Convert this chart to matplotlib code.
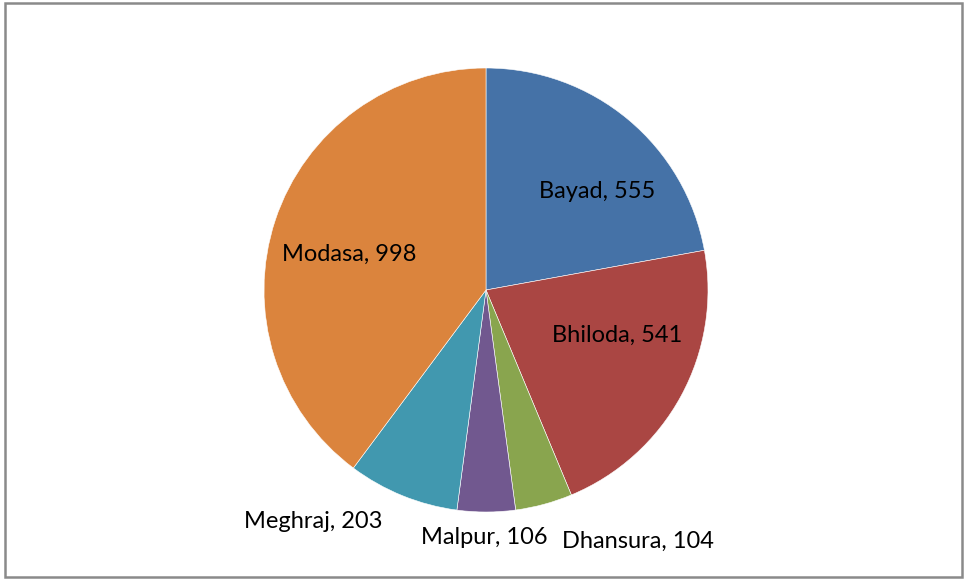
import matplotlib
matplotlib.use("Agg")
import matplotlib.pyplot as plt
from matplotlib.patches import Rectangle

# data
names = ["Bayad", "Bhiloda", "Dhansura", "Malpur", "Meghraj", "Modasa"]
values = [555, 541, 104, 106, 203, 998]
colors = ["#4572A7", "#AA4643", "#89A54E", "#71588F", "#4198AF", "#DB843D"]

# label centres in pixel coords (x, y from top)
label_pos = [(597, 192), (617, 335), (638, 541), (484, 537), (313, 521), (349, 254)]

W, H = 964, 579
fig = plt.figure(figsize=(W / 100, H / 100), dpi=100)
ax = fig.add_axes([0, 0, 1, 1])

ax.pie(values, colors=colors, startangle=90, counterclock=False,
       center=(486, H - 290), radius=222, frame=True,
       wedgeprops=dict(edgecolor="white", linewidth=0.4))
ax.set_xlim(0, W)
ax.set_ylim(0, H)
ax.set_aspect("equal")
ax.axis("off")

for name, val, (x, y) in zip(names, values, label_pos):
    ax.text(x, H - y, f"{name}, {val}", ha="center", va="center",
            fontsize=17, family=["Lato", "DejaVu Sans"], color="black")

# outer chart frame
fig.patches.append(Rectangle((5 / W, 2 / H), 957 / W, 574 / H, transform=fig.transFigure,
                             fill=False, edgecolor="#8a8a8a", linewidth=1.8))

fig.savefig("out.png", dpi=100)
